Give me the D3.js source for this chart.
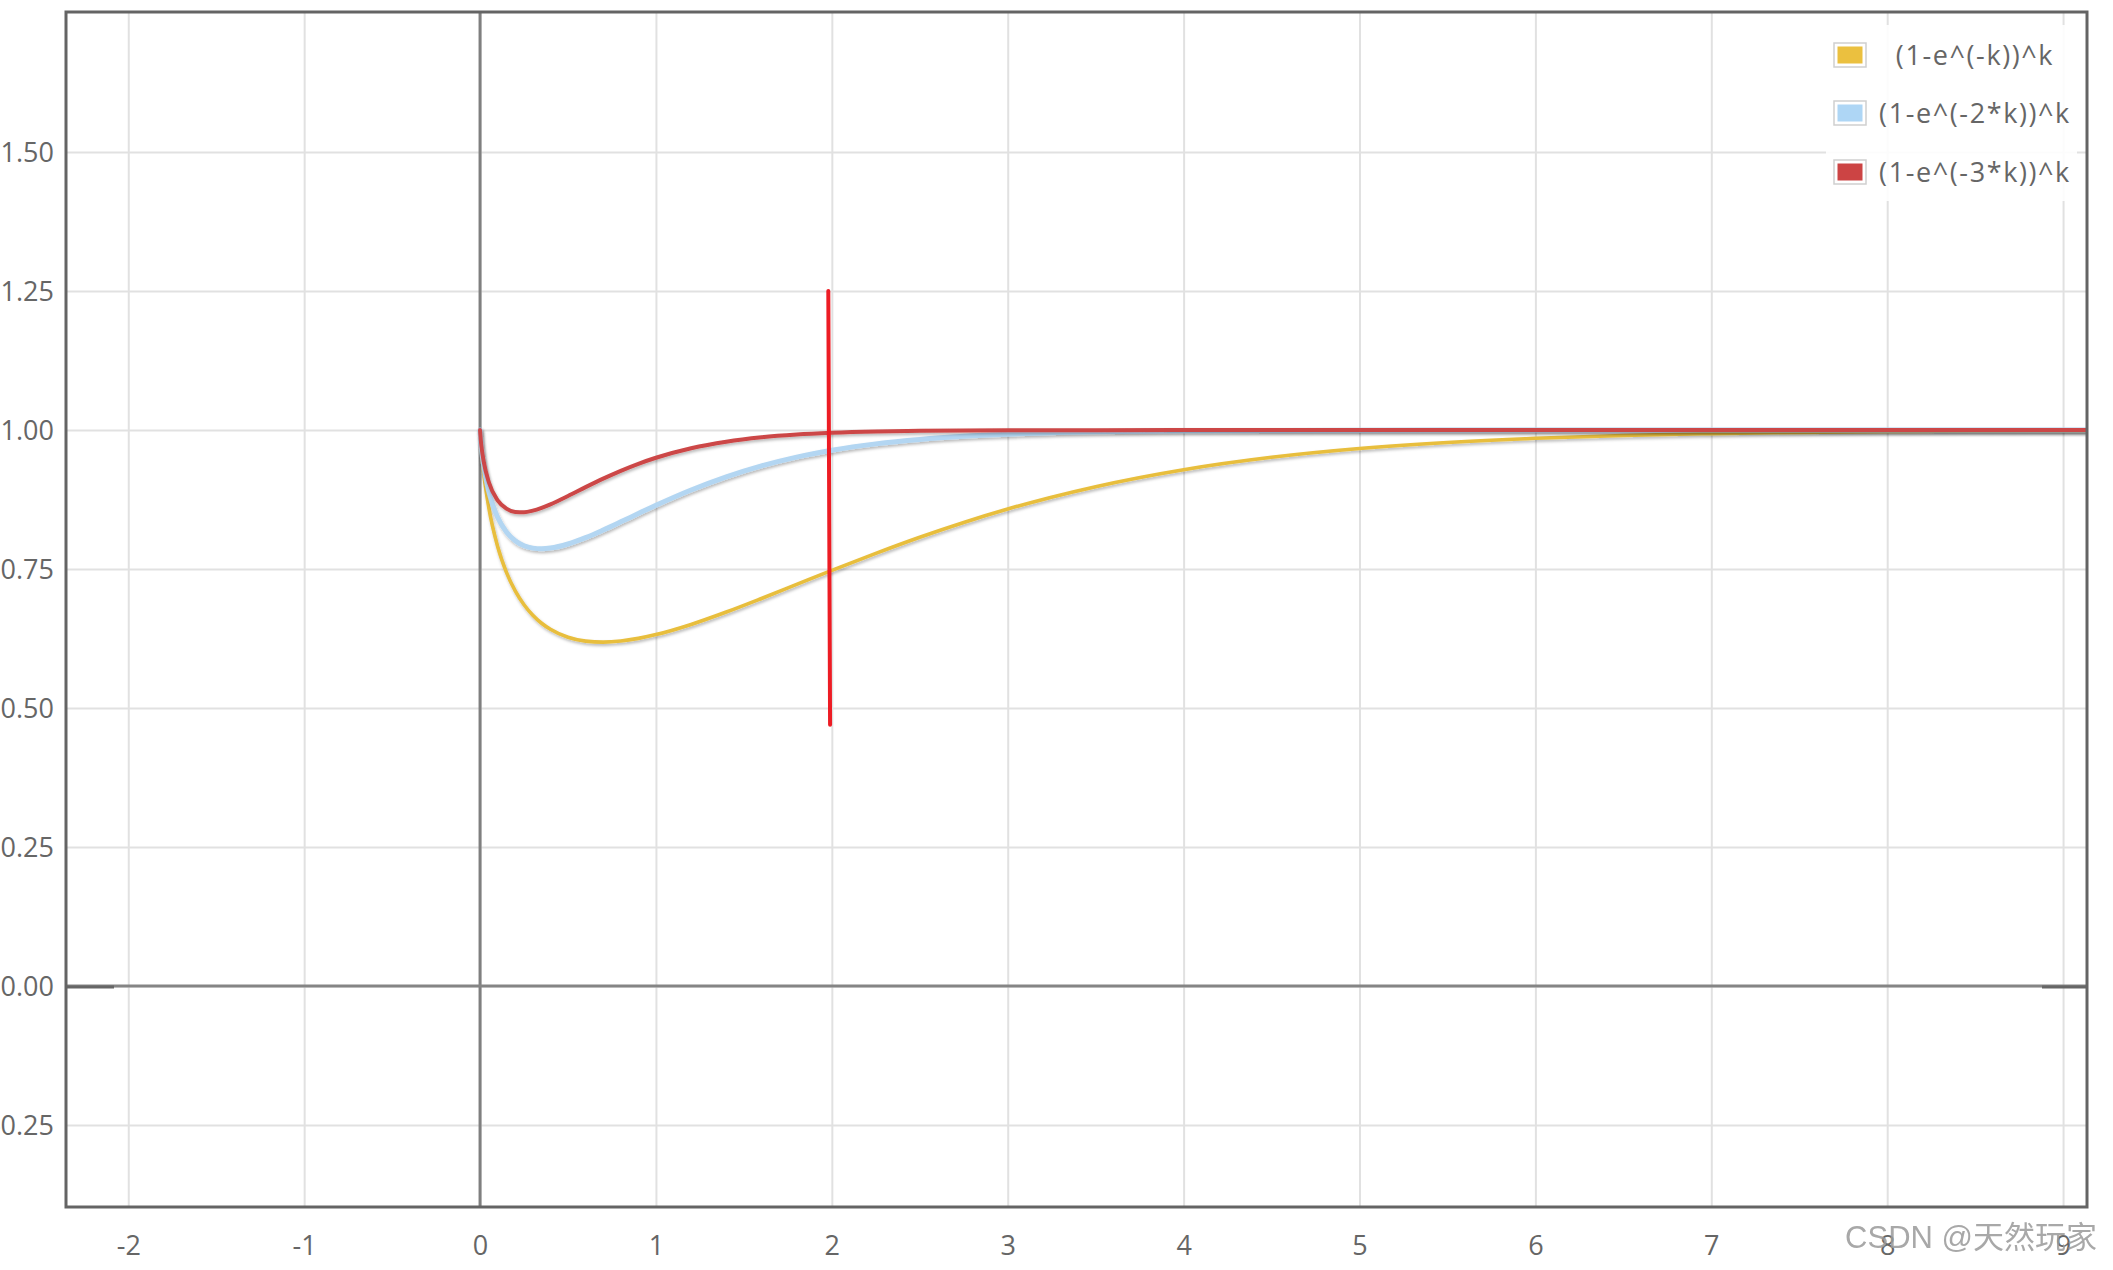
<!DOCTYPE html>
<html>
<head>
<meta charset="utf-8">
<script src="https://cdn.jsdelivr.net/npm/d3@7"></script>
<style>
  html, body { margin: 0; padding: 0; background: #fff; overflow: hidden; }
  svg { display: block; }
</style>
</head>
<body>
<svg id="chart" width="2113" height="1270"></svg>
<script>
// ---------- data ----------
const seriesNames = ["(1-e^(-k))^k", "(1-e^(-2*k))^k", "(1-e^(-3*k))^k"];
const seriesColors = ["#E8BE3C", "#B3D6F2", "#CC4747"];
const swatchColors = ["#EBC03F", "#AED6F5", "#CC4444"];

const kValues = [0, 0.005, 0.01, 0.02, 0.05, 0.1, 0.15, 0.2, 0.25, 0.3, 0.35, 0.4, 0.5, 0.6, 0.7, 0.8, 0.9, 1.0,
  1.2, 1.4, 1.6, 1.8, 2.0, 2.25, 2.5, 2.75, 3.0, 3.5, 4, 4.5, 5, 5.5, 6, 6.5, 7, 7.5, 8, 8.5, 9, 9.2];

const seriesA = [1, 0.9738, 0.9549, 0.9246, 0.8600, 0.7904, 0.7440, 0.7107, 0.6858, 0.6669, 0.6525, 0.6416, 0.6273, 0.6203, 0.6185, 0.6205, 0.6253, 0.6321,
  0.6504, 0.6727, 0.6971, 0.7224, 0.7477, 0.7783, 0.8073, 0.8339, 0.8580, 0.8982, 0.9287, 0.9510, 0.9668, 0.9777, 0.9852, 0.9903, 0.9936, 0.9959, 0.9973, 0.9983, 0.9989, 0.9991];
const seriesB = [1, 0.9772, 0.9615, 0.9373, 0.8890, 0.8430, 0.8167, 0.8010, 0.7920, 0.7876, 0.7864, 0.7877, 0.7951, 0.8065, 0.8202, 0.8349, 0.8499, 0.8647,
  0.8922, 0.9159, 0.9356, 0.9514, 0.9637, 0.9752, 0.9832, 0.9888, 0.9926, 0.9968, 0.9987, 0.9994, 0.9998, 1, 1, 1, 1, 1, 1, 1, 1, 1];
const seriesC = [1, 0.9792, 0.9654, 0.9447, 0.9061, 0.8737, 0.8588, 0.8528, 0.8523, 0.8551, 0.8601, 0.8664, 0.8814, 0.8973, 0.9126, 0.9267, 0.9393, 0.9502,
  0.9673, 0.9791, 0.9869, 0.9919, 0.9950, 0.9974, 0.9986, 0.9993, 0.9996, 0.9999, 1, 1, 1, 1, 1, 1, 1, 1, 1, 1, 1, 1];

const xTicks = [-2, -1, 0, 1, 2, 3, 4, 5, 6, 7, 8, 9];
const xTickLabels = ["-2", "-1", "0", "1", "2", "3", "4", "5", "6", "7", "8", "9"];
const yTicks = [-0.25, 0, 0.25, 0.5, 0.75, 1, 1.25, 1.5];
const yTickLabels = ["-0.25", "0.00", "0.25", "0.50", "0.75", "1.00", "1.25", "1.50"];

const markerX = [1.98, 1.99];
const markerY = [1.25, 0.47];

// ---------- layout ----------
const W = 2113, H = 1270;
const plot = { left: 66, top: 12, right: 2087, bottom: 1207 };
const xDomain = [-2.354, 9.136];
const yDomain = [-0.3975, 1.752];

const svg = d3.select("#chart");
const x = d3.scaleLinear().domain(xDomain).range([plot.left, plot.right]);
const y = d3.scaleLinear().domain(yDomain).range([plot.bottom, plot.top]);

const defs = svg.append("defs");
defs.append("clipPath").attr("id", "clip").append("rect")
  .attr("x", plot.left).attr("y", plot.top)
  .attr("width", plot.right - plot.left).attr("height", plot.bottom - plot.top);
const f = defs.append("filter").attr("id", "shadow")
  .attr("x", "-5%").attr("y", "-20%").attr("width", "110%").attr("height", "140%");
f.append("feDropShadow").attr("dx", 1).attr("dy", 2).attr("stdDeviation", 1.6)
  .attr("flood-color", "#000").attr("flood-opacity", 0.28);

const font = "'Open Sans', 'Noto Sans', sans-serif";

// grid
const gridX = svg.append("g").attr("transform", `translate(0,${plot.bottom})`)
  .call(d3.axisBottom(x).tickValues(xTicks).tickSize(-(plot.bottom - plot.top)).tickFormat(""));
gridX.select(".domain").remove();
gridX.selectAll("line").attr("stroke", "#e1e1e1").attr("stroke-width", 2);

const gridY = svg.append("g").attr("transform", `translate(${plot.left},0)`)
  .call(d3.axisLeft(y).tickValues(yTicks).tickSize(-(plot.right - plot.left)).tickFormat(""));
gridY.select(".domain").remove();
gridY.selectAll("line").attr("stroke", "#e1e1e1").attr("stroke-width", 2);

// zero axes
const axes = svg.append("g").attr("clip-path", "url(#clip)");
axes.append("line").attr("x1", x(0)).attr("x2", x(0)).attr("y1", plot.top).attr("y2", plot.bottom)
  .attr("stroke", "#7f7f7f").attr("stroke-width", 3);
axes.append("line").attr("x1", plot.left).attr("x2", plot.right).attr("y1", y(0)).attr("y2", y(0))
  .attr("stroke", "#858585").attr("stroke-width", 3);
axes.append("line").attr("x1", plot.left).attr("x2", plot.left + 48).attr("y1", y(0) + 1).attr("y2", y(0) + 1)
  .attr("stroke", "#666").attr("stroke-width", 3);
axes.append("line").attr("x1", plot.right - 45).attr("x2", plot.right).attr("y1", y(0) + 1).attr("y2", y(0) + 1)
  .attr("stroke", "#666").attr("stroke-width", 3);

// curves
const allSeries = [seriesA, seriesB, seriesC];
const widths = [3.6, 5, 4];
const line = d3.line().x(d => x(d[0])).y(d => y(d[1])).curve(d3.curveMonotoneX);
const curves = svg.append("g").attr("clip-path", "url(#clip)");
allSeries.forEach((vals, i) => {
  const pts = kValues.map((k, j) => [k, vals[j]]);
  curves.append("path").datum(pts).attr("d", line)
    .attr("fill", "none").attr("stroke", seriesColors[i]).attr("stroke-width", widths[i])
    .attr("stroke-linejoin", "round").attr("stroke-linecap", "round")
    .attr("filter", "url(#shadow)");
});

// red marker line
svg.append("line")
  .attr("x1", x(markerX[0])).attr("y1", y(markerY[0]))
  .attr("x2", x(markerX[1])).attr("y2", y(markerY[1]))
  .attr("stroke", "#ED1C24").attr("stroke-width", 4).attr("stroke-linecap", "round");

// legend
const lg = svg.append("g");
lg.append("rect").attr("x", 1826).attr("y", 25).attr("width", 251).attr("height", 176)
  .attr("fill", "#fff").attr("opacity", 0.88);
const legendY = [55, 113, 172];
seriesNames.forEach((name, i) => {
  const cy = legendY[i];
  lg.append("rect").attr("x", 1834).attr("y", cy - 12).attr("width", 32).attr("height", 24)
    .attr("fill", "#fff").attr("stroke", "#cfcfcf").attr("stroke-width", 1.5);
  lg.append("rect").attr("x", 1837.5).attr("y", cy - 8.5).attr("width", 25).attr("height", 17)
    .attr("fill", swatchColors[i]);
  lg.append("text").attr("x", 1975).attr("y", cy).attr("dy", "0.36em")
    .attr("text-anchor", "middle").attr("font-family", font).attr("font-size", 27)
    .attr("letter-spacing", 1.6).attr("fill", "#666").text(name);
});

// frame
svg.append("rect").attr("x", plot.left).attr("y", plot.top)
  .attr("width", plot.right - plot.left).attr("height", plot.bottom - plot.top)
  .attr("fill", "none").attr("stroke", "#646464").attr("stroke-width", 3);

// tick labels
const xAxis = svg.append("g").attr("transform", `translate(0,${plot.bottom})`)
  .call(d3.axisBottom(x).tickValues(xTicks).tickSize(0).tickPadding(0)
    .tickFormat((d, i) => xTickLabels[i]));
xAxis.select(".domain").remove();
xAxis.selectAll("text").attr("y", 48).attr("dy", 0)
  .attr("font-family", font).attr("font-size", 27).attr("fill", "#666");

const yAxis = svg.append("g").attr("transform", `translate(54,0)`)
  .call(d3.axisLeft(y).tickValues(yTicks).tickSize(0).tickPadding(0)
    .tickFormat((d, i) => yTickLabels[i]));
yAxis.select(".domain").remove();
yAxis.selectAll("text").attr("x", 0).attr("dy", "0.36em")
  .attr("font-family", font).attr("font-size", 27).attr("fill", "#666");

// watermark
svg.append("text").attr("x", 2097).attr("y", 1248).attr("text-anchor", "end")
  .attr("font-family", "'Liberation Sans', 'Noto Sans CJK SC', sans-serif").attr("font-size", 31)
  .attr("fill", "#999").attr("opacity", 0.85).text("CSDN @天然玩家");
</script>
</body>
</html>
